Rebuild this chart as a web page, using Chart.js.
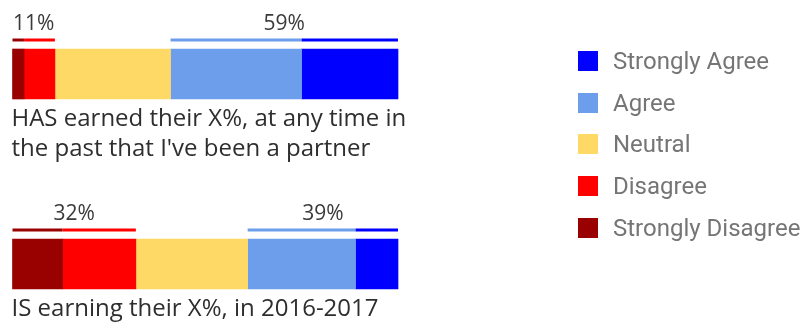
<!DOCTYPE html>
<html>
<head>
<meta charset="utf-8">
<script src="https://cdn.jsdelivr.net/npm/chart.js@4"></script>
<style>
  html, body { margin: 0; padding: 0; background: #fff; }
  #wrap { position: relative; width: 805px; height: 325px; }
  #legend {
    position: absolute; left: 578px; top: 40px;
    font-family: Roboto, sans-serif; font-size: 24px; color: #757575;
  }
  .item { display: flex; align-items: center; height: 41.7px; }
  .box { width: 20px; height: 20px; margin-right: 15px; flex: none; }
</style>
</head>
<body>
<div id="wrap">
  <canvas id="survey" width="805" height="325"></canvas>
  <div id="legend"></div>
</div>
<script>
const categories = [
  ["HAS earned their X%, at any time in", "the past that I've been a partner"],
  ["IS earning their X%, in 2016-2017"]
];
const responses = ["Strongly Disagree", "Disagree", "Neutral", "Agree", "Strongly Agree"];
const stronglyDisagree = [3, 13];
const disagree = [8, 19];
const neutral = [30, 29];
const agree = [34, 28];
const stronglyAgree = [25, 11];
const colors = ["#990000", "#ff0000", "#ffd966", "#6d9eeb", "#0000ff"];

// dataset indexes summed into the bracket labels above each bar
const groups = [[0, 1], [3, 4]];

const bracketPlugin = {
  id: "brackets",
  afterDatasetsDraw(chart) {
    const ctx = chart.ctx;
    ctx.save();
    chart.data.labels.forEach((label, i) => {
      const first = chart.getDatasetMeta(0).data[i];
      const top = first.y - first.height / 2;
      const bottom = first.y + first.height / 2;

      groups.forEach((group) => {
        let left = Infinity;
        let right = -Infinity;
        let total = 0;
        group.forEach((d) => {
          const bar = chart.getDatasetMeta(d).data[i];
          const x0 = Math.min(bar.base, bar.x);
          const x1 = Math.max(bar.base, bar.x);
          left = Math.min(left, x0);
          right = Math.max(right, x1);
          total += chart.data.datasets[d].data[i];
          ctx.strokeStyle = chart.data.datasets[d].backgroundColor;
          ctx.lineWidth = 3;
          ctx.beginPath();
          ctx.moveTo(x0, top - 9);
          ctx.lineTo(x1, top - 9);
          ctx.stroke();
        });
        ctx.fillStyle = "#3a3a3a";
        ctx.font = "21px 'Open Sans', sans-serif";
        ctx.textAlign = "center";
        ctx.textBaseline = "alphabetic";
        ctx.fillText(total + "%", (left + right) / 2, top - 19);
      });

      // category text under the bar
      ctx.fillStyle = "#2e2e2e";
      ctx.font = "24px 'Open Sans', sans-serif";
      ctx.textAlign = "left";
      [].concat(label).forEach((line, k) => {
        ctx.fillText(line, chart.chartArea.left - 1, bottom + 27 + k * 30);
      });
    });
    ctx.restore();
  }
};

const datasets = [stronglyDisagree, disagree, neutral, agree, stronglyAgree].map((values, k) => ({
  label: responses[k],
  data: values,
  backgroundColor: colors[k],
  borderWidth: 0,
  barThickness: 50,
  clip: false
}));

const chart = new Chart(document.getElementById("survey"), {
  type: "bar",
  data: { labels: categories, datasets },
  options: {
    indexAxis: "y",
    responsive: false,
    animation: false,
    layout: { padding: { left: 12.5, right: 407, top: 74, bottom: 61 } },
    scales: {
      x: { stacked: true, min: 0, max: 100, display: false },
      y: { stacked: true, offset: false, display: false }
    },
    plugins: {
      legend: { display: false },
      tooltip: { enabled: false }
    }
  },
  plugins: [bracketPlugin]
});

// legend list, top entry is the last series
const legendEl = document.getElementById("legend");
chart.options.plugins.legend.labels.generateLabels(chart).reverse().forEach((item) => {
  const row = document.createElement("div");
  row.className = "item";
  const box = document.createElement("span");
  box.className = "box";
  box.style.background = item.fillStyle;
  row.appendChild(box);
  row.appendChild(document.createTextNode(item.text));
  legendEl.appendChild(row);
});
</script>
</body>
</html>
